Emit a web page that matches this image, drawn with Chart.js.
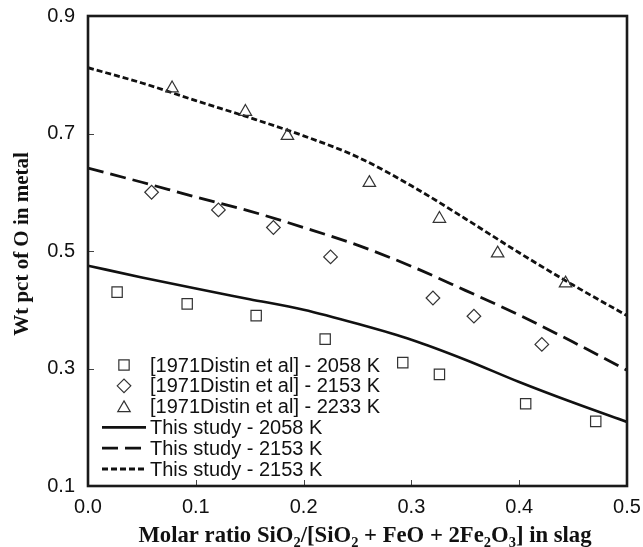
<!DOCTYPE html>
<html lang="en">
<head>
  <meta charset="UTF-8" />
  <title>Wt pct of O in metal</title>
  <script src="https://cdn.jsdelivr.net/npm/chart.js"></script>
  <style>
    html, body { margin: 0; padding: 0; background: #fff; }
    #wrap { width: 643px; height: 547px; position: relative; }
  </style>
</head>
<body>
  <div id="wrap"><canvas id="chart"></canvas></div>

  <script>
    // measured points, [1971Distin et al]
    const exp2058X = [0.027, 0.092, 0.156, 0.220, 0.292, 0.326, 0.406, 0.471];
    const exp2058Y = [0.430, 0.410, 0.390, 0.350, 0.310, 0.290, 0.240, 0.210];
    const exp2153X = [0.059, 0.121, 0.172, 0.225, 0.320, 0.358, 0.421];
    const exp2153Y = [0.600, 0.570, 0.540, 0.490, 0.420, 0.389, 0.341];
    const exp2233X = [0.078, 0.146, 0.185, 0.261, 0.326, 0.380, 0.443];
    const exp2233Y = [0.777, 0.737, 0.696, 0.616, 0.555, 0.496, 0.445];

    // model curves, this study
    const curveX = [0, 0.05, 0.1, 0.15, 0.2, 0.25, 0.3, 0.35, 0.4, 0.45, 0.5];
    const model2058 = [0.475, 0.455, 0.436, 0.418, 0.400, 0.376, 0.349, 0.315, 0.277, 0.242, 0.209];
    const model2153 = [0.641, 0.617, 0.592, 0.568, 0.540, 0.510, 0.474, 0.433, 0.391, 0.345, 0.297];
    const model2233 = [0.812, 0.786, 0.756, 0.727, 0.696, 0.660, 0.611, 0.555, 0.497, 0.442, 0.390];

    const xTicks = [0, 0.1, 0.2, 0.3, 0.4, 0.5];
    const yTicks = [0.1, 0.3, 0.5, 0.7, 0.9];

    const toPts = (xs, ys) => xs.map((x, i) => ({ x, y: ys[i] }));

    const markerColor = '#333';
    const lineColor = '#111';

    const datasets = [
      { label: '[1971Distin et al] - 2058 K', data: toPts(exp2058X, exp2058Y), showLine: false,
        pointStyle: 'rect', pointRadius: 7.3, borderColor: markerColor, backgroundColor: 'rgba(0,0,0,0)', borderWidth: 1.2 },
      { label: '[1971Distin et al] - 2153 K', data: toPts(exp2153X, exp2153Y), showLine: false,
        pointStyle: 'rectRot', pointRadius: 6.8, borderColor: markerColor, backgroundColor: 'rgba(0,0,0,0)', borderWidth: 1.2 },
      { label: '[1971Distin et al] - 2233 K', data: toPts(exp2233X, exp2233Y), showLine: false,
        pointStyle: 'triangle', pointRadius: 7.2, borderColor: markerColor, backgroundColor: 'rgba(0,0,0,0)', borderWidth: 1.2 },
      { label: 'This study - 2058 K', data: toPts(curveX, model2058), showLine: true, pointRadius: 0,
        borderColor: lineColor, borderWidth: 2.6, cubicInterpolationMode: 'monotone', borderDash: [] },
      { label: 'This study - 2153 K', data: toPts(curveX, model2153), showLine: true, pointRadius: 0,
        borderColor: lineColor, borderWidth: 2.8, cubicInterpolationMode: 'monotone', borderDash: [16, 7] },
      { label: 'This study - 2153 K', data: toPts(curveX, model2233), showLine: true, pointRadius: 0,
        borderColor: lineColor, borderWidth: 2.8, cubicInterpolationMode: 'monotone', borderDash: [6, 3] }
    ];

    // frame, inner ticks, axis titles and legend
    const decor = {
      id: 'decor',
      afterDraw(chart) {
        const ctx = chart.ctx;
        const a = chart.chartArea;
        const xs = chart.scales.x, ys = chart.scales.y;
        ctx.save();

        // inward ticks
        ctx.strokeStyle = '#444';
        ctx.lineWidth = 1;
        ctx.beginPath();
        xTicks.forEach(v => {
          const px = Math.round(xs.getPixelForValue(v)) + 0.5;
          ctx.moveTo(px, a.bottom); ctx.lineTo(px, a.bottom - 6);
        });
        yTicks.forEach(v => {
          const py = Math.round(ys.getPixelForValue(v)) + 0.5;
          ctx.moveTo(a.left, py); ctx.lineTo(a.left + 6, py);
        });
        ctx.stroke();

        // frame
        ctx.strokeStyle = '#1a1a1a';
        ctx.lineWidth = 2.6;
        ctx.strokeRect(a.left, a.top, a.right - a.left, a.bottom - a.top);

        // y title
        ctx.fillStyle = '#111';
        ctx.font = 'bold 21px "Liberation Serif", "Times New Roman", serif';
        ctx.textAlign = 'center';
        ctx.textBaseline = 'alphabetic';
        ctx.translate(28, 244);
        ctx.rotate(-Math.PI / 2);
        ctx.fillText('Wt pct of O in metal', 0, 0);
        ctx.setTransform(1, 0, 0, 1, 0, 0);

        // x title with subscripts
        const big = 'bold 22.7px "Liberation Serif", "Times New Roman", serif';
        const small = 'bold 14.5px "Liberation Serif", "Times New Roman", serif';
        const parts = [
          ['Molar ratio SiO', 0], ['2', 1], ['/[SiO', 0], ['2', 1], [' + FeO + 2Fe', 0],
          ['2', 1], ['O', 0], ['3', 1], ['] in slag', 0]
        ];
        let total = 0;
        parts.forEach(p => { ctx.font = p[1] ? small : big; total += ctx.measureText(p[0]).width; });
        let cx = 365 - total / 2;
        const base = 542;
        ctx.textAlign = 'left';
        parts.forEach(p => {
          ctx.font = p[1] ? small : big;
          ctx.fillText(p[0], cx, p[1] ? base + 5 : base);
          cx += ctx.measureText(p[0]).width;
        });

        // legend
        const rowY0 = 365, rowStep = 20.8;
        const mX = 124, lx0 = 102, lx1 = 146, tX = 150;
        chart.data.datasets.forEach((ds, i) => {
          const y = rowY0 + i * rowStep;
          if (ds.showLine) {
            ctx.strokeStyle = ds.borderColor;
            ctx.lineWidth = ds.borderWidth;
            ctx.setLineDash(ds.borderDash || []);
            ctx.beginPath(); ctx.moveTo(lx0, y); ctx.lineTo(lx1, y); ctx.stroke();
            ctx.setLineDash([]);
          } else {
            ctx.strokeStyle = ds.borderColor;
            ctx.fillStyle = 'rgba(0,0,0,0)';
            ctx.lineWidth = ds.borderWidth;
            Chart.helpers.drawPoint(ctx, { pointStyle: ds.pointStyle, radius: ds.pointRadius, borderWidth: ds.borderWidth, rotation: 0 }, mX, ds.pointStyle === 'triangle' ? y + 1.5 : y);
          }
          ctx.fillStyle = '#111';
          ctx.font = '20px "Liberation Sans", Arial, sans-serif';
          ctx.textAlign = 'left';
          ctx.textBaseline = 'middle';
          ctx.fillText(ds.label, tX, y + 1);
        });

        ctx.restore();
      }
    };

    new Chart(document.getElementById('chart'), {
      type: 'scatter',
      data: { datasets },
      options: {
        responsive: true,
        maintainAspectRatio: false,
        animation: false,
        layout: { padding: { left: 0, top: 16, right: 16, bottom: 0 } },
        plugins: { legend: { display: false }, tooltip: { enabled: false } },
        scales: {
          x: {
            type: 'linear', min: 0, max: 0.5,
            afterFit: s => { s.height = 61; s.paddingLeft = 0; s.paddingRight = 0; },
            afterBuildTicks: s => { s.ticks = xTicks.map(v => ({ value: v })); },
            grid: { display: false, drawTicks: false },
            border: { display: false },
            ticks: {
              padding: 9, color: '#111', maxRotation: 0,
              font: { family: '"Liberation Sans", Arial, sans-serif', size: 20 },
              callback: v => v.toFixed(1)
            }
          },
          y: {
            type: 'linear', min: 0.1, max: 0.9,
            afterFit: s => { s.width = 88; s.paddingTop = 0; s.paddingBottom = 0; },
            afterBuildTicks: s => { s.ticks = yTicks.map(v => ({ value: v })); },
            grid: { display: false, drawTicks: false },
            border: { display: false },
            ticks: {
              padding: 13, color: '#111',
              font: { family: '"Liberation Sans", Arial, sans-serif', size: 20 },
              callback: v => v.toFixed(1)
            }
          }
        }
      },
      plugins: [decor]
    });
  </script>
</body>
</html>
